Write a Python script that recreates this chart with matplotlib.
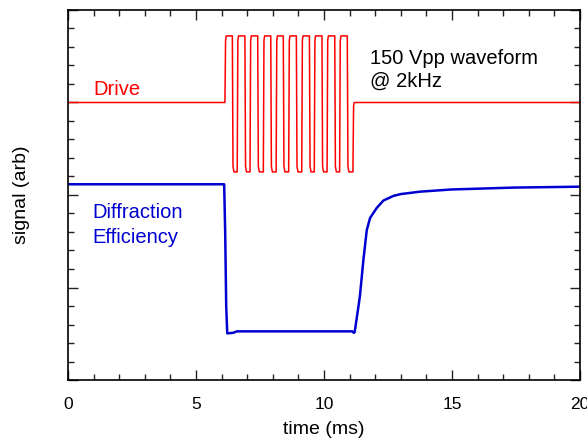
import numpy as np
import matplotlib
matplotlib.use("Agg")
import matplotlib.pyplot as plt
from matplotlib.ticker import MultipleLocator

plt.rcParams['font.family'] = ['Liberation Sans', 'DejaVu Sans']

# drive waveform (red): levels and edge times, ms
drive_base = 15.0
drive_high = 18.6
drive_low = 11.25
drive_start = 6.13
drive_end = 11.13
rise_t = [6.13, 6.61, 7.11, 7.63, 8.13, 8.62, 9.13, 9.62, 10.12, 10.61]
fall_t = [6.42, 6.91, 7.41, 7.92, 8.41, 8.92, 9.43, 9.92, 10.42, 10.91]

# diffraction efficiency (blue)
eff_t = [0, 3.0, 6.10, 6.14, 6.18, 6.22, 6.45, 6.6, 8.0, 11.10, 11.17, 11.20,
         11.40, 11.54, 11.67, 11.80, 12.06, 12.32, 12.71, 13.0, 13.75, 15.0,
         17.4, 20.0]
eff_y = [10.58, 10.58, 10.58, 8.0, 4.0, 2.52, 2.55, 2.63, 2.63, 2.63, 2.55, 2.6,
         4.5, 6.5, 8.1, 8.76, 9.3, 9.7, 9.95, 10.05, 10.18, 10.3,
         10.4, 10.45]

# build the square wave outline from the edges
dt = 0.025
drv_t = [0, drive_start]
drv_y = [drive_base, drive_base]
for r, f in zip(rise_t, fall_t):
    drv_t += [r, r + dt, r + 2 * dt, f, f + dt, f + 2.5 * dt]
    drv_y += [drive_low if r != drive_start else drive_base,
              drive_high - 0.25, drive_high, drive_high, drive_low + 0.3, drive_low]
drv_t += [drive_end, drive_end + dt, drive_end + 2 * dt, 20]
drv_y += [drive_low, drive_base - 0.2, drive_base, drive_base]

fig = plt.figure(figsize=(5.87, 4.48), dpi=100)
ax = fig.add_axes([68 / 587, 1 - 380 / 448, 512 / 587, 370 / 448])

ax.plot(drv_t, drv_y, color='#ff0000', lw=1.1)
ax.plot(eff_t, eff_y, color='#0000d0', lw=1.8)

ax.set_xlim(0, 20)
ax.set_ylim(0, 20)
ax.xaxis.set_major_locator(MultipleLocator(5))
ax.xaxis.set_minor_locator(MultipleLocator(1))
ax.yaxis.set_major_locator(MultipleLocator(5))
ax.yaxis.set_minor_locator(MultipleLocator(1))
ax.tick_params(which='both', direction='in', top=True, right=True, width=1, color='#222222')
ax.tick_params(which='major', length=7)
ax.tick_params(which='minor', length=4)
ax.tick_params(axis='x', labelsize=12.5, pad=12)
ax.set_yticklabels([])
for s in ax.spines.values():
    s.set_linewidth(1.2)

ax.set_xlabel('time (ms)', fontsize=14, labelpad=7)
ax.set_ylabel('signal (arb)', fontsize=14, labelpad=24)

ax.text(0.98, 15.4, 'Drive', color='#ff0000', fontsize=14.5)
ax.text(0.94, 8.76, 'Diffraction', color='#0000d0', fontsize=14.5)
ax.text(0.94, 7.4, 'Efficiency', color='#0000d0', fontsize=14.5)
ax.text(11.8, 17.08, '150 Vpp waveform', color='black', fontsize=14.5)
ax.text(11.8, 15.84, '@ 2kHz', color='black', fontsize=14.5)

fig.savefig('out.png', dpi=100)
